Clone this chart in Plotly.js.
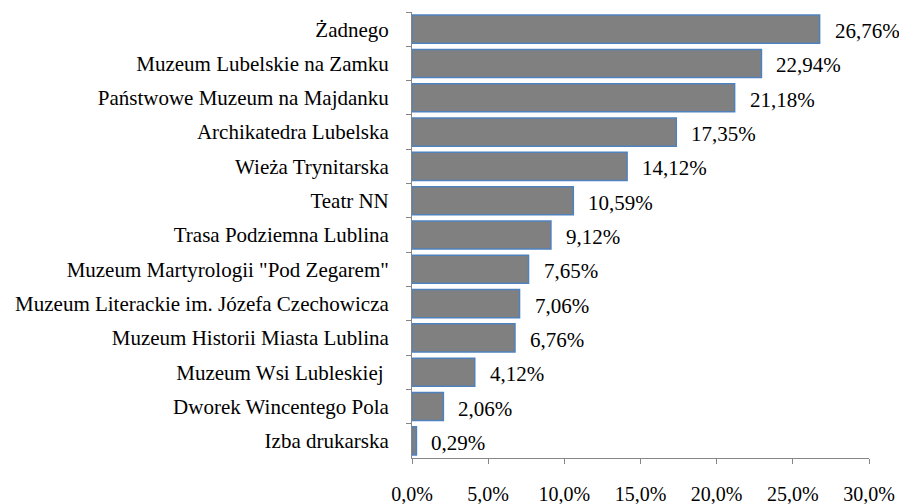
<!DOCTYPE html>
<html><head><meta charset="utf-8">
<script src="https://cdn.plot.ly/plotly-3.0.1.min.js"></script>
<style>html,body{margin:0;padding:0;background:#fff}#chart{width:899px;height:504px}</style>
</head><body><div id="chart"></div>
<script>
const categories = ["Żadnego","Muzeum Lubelskie na Zamku","Państwowe Muzeum na Majdanku","Archikatedra Lubelska","Wieża Trynitarska","Teatr NN","Trasa Podziemna Lublina","Muzeum Martyrologii \"Pod Zegarem\"","Muzeum Literackie im. Józefa Czechowicza","Muzeum Historii Miasta Lublina","Muzeum Wsi Lubleskiej ","Dworek Wincentego Pola","Izba drukarska"];
const values = [26.76,22.94,21.18,17.35,14.12,10.59,9.12,7.65,7.06,6.76,4.12,2.06,0.29];
const xTicks = [0,5,10,15,20,25,30];
const xTickText = ["0,0%","5,0%","10,0%","15,0%","20,0%","25,0%","30,0%"];

const FAM = "Liberation Serif";
const font = {family:FAM, size:21, color:"#000"};
const xfont = {family:FAM, size:20, color:"#000"};
const annotations = values.map((v,i)=>({
  x:v, y:categories[i], xref:'x', yref:'y',
  text: v.toFixed(2).replace('.',',') + '%',
  showarrow:false, xanchor:'left', yanchor:'middle', xshift:13, yshift:-2,
  font:font
}));

Plotly.newPlot('chart',[{
  type:'bar', orientation:'h', x:values, y:categories,
  marker:{color:'#808080', line:{color:'#4F81BD', width:1.5}},
  hoverinfo:'none'
}],{
  width:899, height:504,
  margin:{l:412, r:30, t:12, b:46},
  paper_bgcolor:'#fff', plot_bgcolor:'#fff',
  font:font,
  bargap:0.18,
  showlegend:false,
  xaxis:{range:[0,30], tickmode:'array', tickvals:xTicks, ticktext:xTickText,
    showgrid:false, zeroline:false, showline:true, linecolor:'#868686', linewidth:1,
    ticks:'outside', ticklen:5, tickcolor:'#868686', ticklabelstandoff:13, tickfont:xfont, fixedrange:true},
  yaxis:{autorange:'reversed', type:'category', showgrid:false, zeroline:false,
    showline:true, linecolor:'#868686', linewidth:1, ticks:'outside', ticklen:5, tickcolor:'#868686',
    tickson:'boundaries', ticklabelstandoff:18, tickfont:font, fixedrange:true},
  annotations:annotations
},{staticPlot:true});
</script></body></html>
